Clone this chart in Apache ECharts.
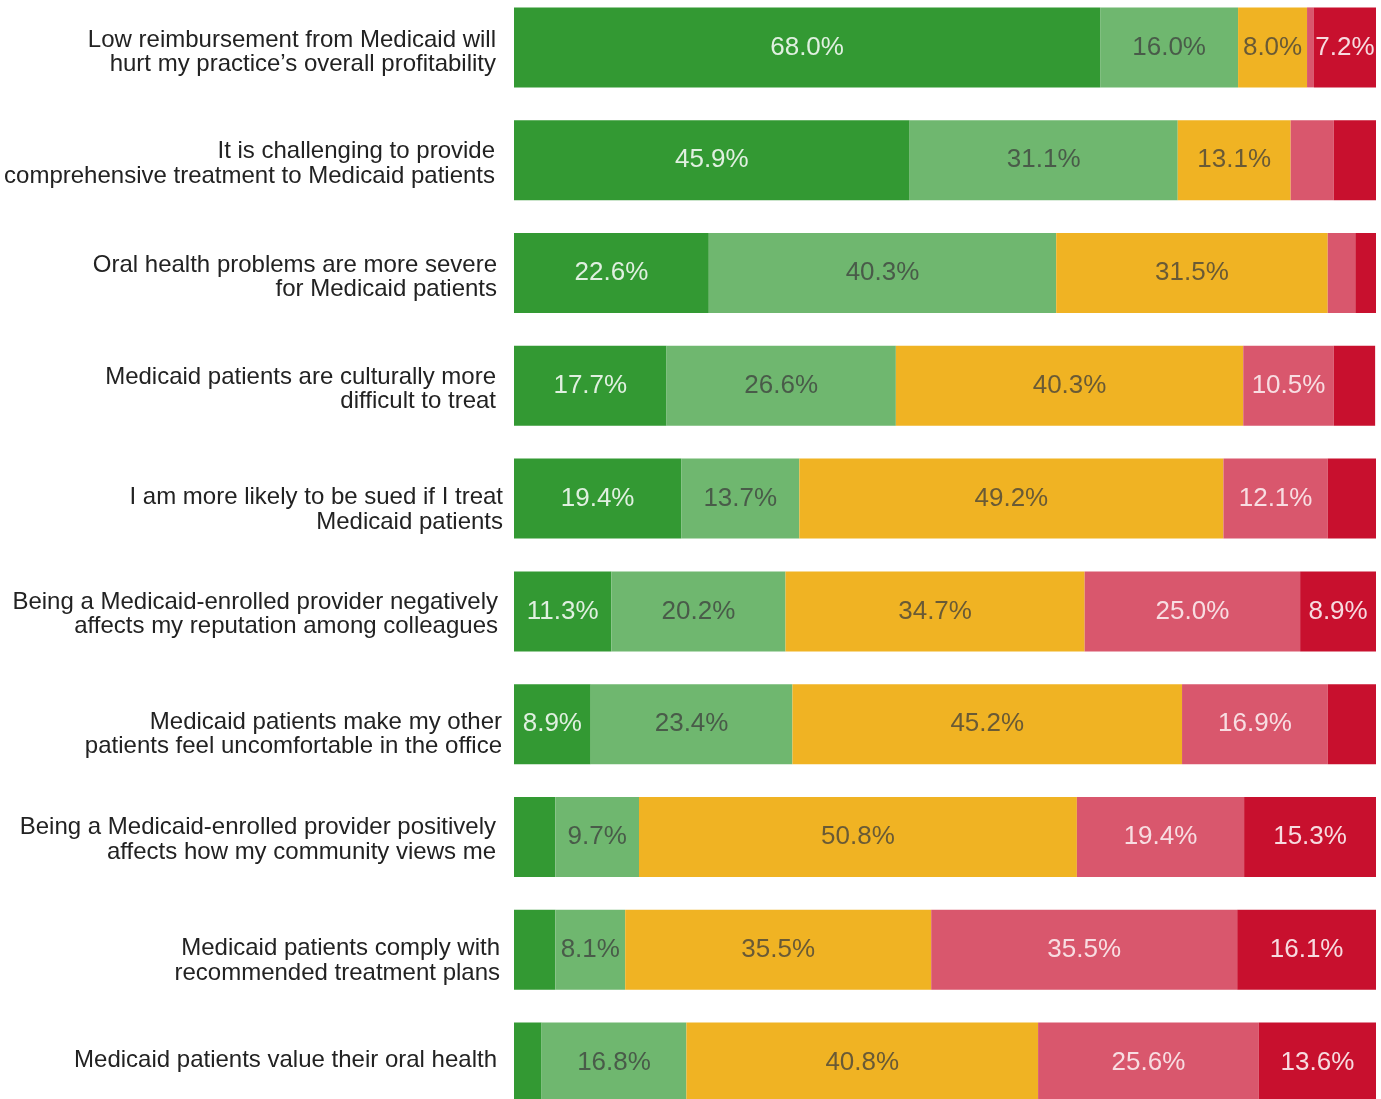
<!DOCTYPE html>
<html>
<head>
<meta charset="utf-8">
<script src="https://cdn.jsdelivr.net/npm/echarts@6/dist/echarts.min.js"></script>
<style>
html,body{margin:0;padding:0;background:#fff;}
#c{width:1381px;height:1099px;}
</style>
</head>
<body>
<div id="c"></div>
<script>
const categories = [
  "Low reimbursement from Medicaid will\nhurt my practice\u2019s overall profitability",
  "It is challenging to provide\ncomprehensive treatment to Medicaid patients",
  "Oral health problems are more severe\nfor Medicaid patients",
  "Medicaid patients are culturally more\ndifficult to treat",
  "I am more likely to be sued if I treat\nMedicaid patients",
  "Being a Medicaid-enrolled provider negatively\naffects my reputation among colleagues",
  "Medicaid patients make my other\npatients feel uncomfortable in the office",
  "Being a Medicaid-enrolled provider positively\naffects how my community views me",
  "Medicaid patients comply with\nrecommended treatment plans",
  "Medicaid patients value their oral health"
];
const seriesNames = ["Strongly agree", "Agree", "Neutral", "Disagree", "Strongly disagree"];
const stronglyAgree    = [68.0, 45.9, 22.6, 17.7, 19.4, 11.3,  8.9,  4.8,  4.8,  3.2];
const agree            = [16.0, 31.1, 40.3, 26.6, 13.7, 20.2, 23.4,  9.7,  8.1, 16.8];
const neutral          = [ 8.0, 13.1, 31.5, 40.3, 49.2, 34.7, 45.2, 50.8, 35.5, 40.8];
const disagree         = [ 0.8,  5.0,  3.2, 10.5, 12.1, 25.0, 16.9, 19.4, 35.5, 25.6];
const stronglyDisagree = [ 7.2,  4.9,  2.4,  4.8,  5.6,  8.9,  5.6, 15.3, 16.1, 13.6];

// label layout tweaks (style only): vertical shift and right inset of each category label, px
const labelShiftDown = [4.5, 3.5, 4, 3.5, 11, 2.5, 10, 2.5, 11, -2];
const labelInsetRight = [8, 9, 7, 8, 1, 6, 2, 8, 4, 7];

const values = [stronglyAgree, agree, neutral, disagree, stronglyDisagree];
const colors = ["#339933", "#6fb76f", "#f0b323", "#d9576d", "#c8102e"];
const labelColors = ["rgba(255,255,255,0.85)", "rgba(60,60,60,0.75)", "rgba(60,60,60,0.75)", "rgba(255,255,255,0.8)", "rgba(255,255,255,0.85)"];

const FONT = 'Liberation Sans, Arial, sans-serif';
const baseText = {fontSize: 24, fontFamily: FONT, color: '#222'};
const rich = {b: Object.assign({lineHeight: 25}, baseText)};
labelShiftDown.forEach((dy, i) => {
  rich['a' + i] = Object.assign({
    lineHeight: 25 + 2 * Math.abs(dy),
    verticalAlign: dy >= 0 ? 'bottom' : 'top'
  }, baseText);
});

const yData = categories.map((c, i) => ({
  value: c,
  textStyle: {padding: [0, labelInsetRight[i], 0, 0]}
}));

const chart = echarts.init(document.getElementById('c'), null, {renderer: 'canvas'});
chart.setOption({
  animation: false,
  grid: {left: 514, right: 5, top: -9, height: 1128, containLabel: false, outerBoundsMode: 'none'},
  xAxis: {type: 'value', min: 0, max: 100, show: false},
  yAxis: {
    type: 'category', data: yData, inverse: true,
    axisLine: {show: false}, axisTick: {show: false}, splitLine: {show: false},
    axisLabel: {
      margin: 10, fontSize: 24, lineHeight: 25, color: '#222',
      fontFamily: FONT, align: 'right',
      formatter: (value, idx) => {
        const lines = value.split('\n');
        return lines.map((l, k) => (k === 0 ? '{a' + idx + '|' : '{b|') + l + '}').join('\n');
      },
      rich: rich
    }
  },
  series: values.map((arr, i) => ({
    name: seriesNames[i], type: 'bar', stack: 'total', data: arr,
    barWidth: 80,
    itemStyle: {color: colors[i]},
    label: {
      show: true, position: 'inside', fontSize: 26,
      fontFamily: FONT,
      color: labelColors[i],
      formatter: p => p.value >= 7 ? p.value.toFixed(1) + '%' : ''
    }
  }))
});
</script>
</body>
</html>
